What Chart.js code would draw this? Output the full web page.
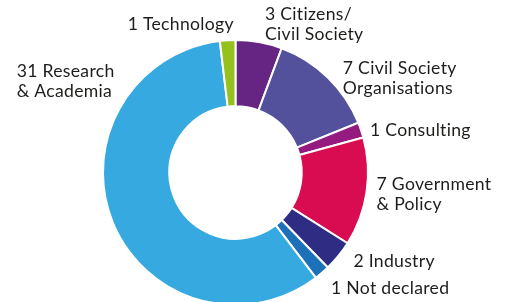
<!DOCTYPE html>
<html>
<head>
<meta charset="utf-8">
<script src="https://cdn.jsdelivr.net/npm/chart.js@4"></script>
<style>
html,body{margin:0;padding:0;background:#fff;overflow:hidden;}
#wrap{width:510px;height:302px;overflow:hidden;position:relative;}
canvas{display:block;}
</style>
</head>
<body>
<div id="wrap"><canvas id="c" width="510" height="345"></canvas></div>
<script>
// Data (clockwise from 12 o'clock)
const categories = ["Citizens/ Civil Society", "Civil Society Organisations", "Consulting", "Government & Policy", "Industry", "Not declared", "Research & Academia", "Technology"];
const counts = [3, 7, 1, 7, 2, 1, 31, 1];
const labelLines = [
  ["3 Citizens/", "Civil Society"],
  ["7 Civil Society", "Organisations"],
  ["1 Consulting"],
  ["7 Government", "& Policy"],
  ["2 Industry"],
  ["1 Not declared"],
  ["31 Research", "& Academia"],
  ["1 Technology"]
];
const colors = ["#662483", "#53519c", "#951b81", "#d90c52", "#2f2c83", "#1d71b8", "#36a9e1", "#95c11f"];

// label offsets relative to each slice's outer mid-point (x of text start, y of first baseline)
const labelOffsets = [
  [6, -22], [15, -3], [9, 6], [10, -2], [15, 11], [9, 21], [-96, -145], [-100, -10]
];

const labelPlugin = {
  id: 'sliceLabels',
  afterDatasetsDraw(chart) {
    const ctx = chart.ctx;
    const meta = chart.getDatasetMeta(0);
    ctx.save();
    ctx.font = '17.6px Lato, "Open Sans", sans-serif';
    try { ctx.letterSpacing = '0.3px'; } catch (e) {}
    ctx.fillStyle = '#1d1d1b';
    ctx.textAlign = 'left';
    ctx.textBaseline = 'alphabetic';
    meta.data.forEach((arc, i) => {
      const p = arc.getProps(['x', 'y', 'startAngle', 'endAngle', 'outerRadius'], true);
      const mid = (p.startAngle + p.endAngle) / 2;
      const ax = p.x + Math.cos(mid) * p.outerRadius;
      const ay = p.y + Math.sin(mid) * p.outerRadius;
      const [dx, dy] = labelOffsets[i];
      labelLines[i].forEach((line, k) => {
        ctx.fillText(line, ax + dx, ay + dy + k * 19.5);
      });
    });
    ctx.restore();
  }
};

function draw() {
  new Chart(document.getElementById('c'), {
    type: 'doughnut',
    data: {
      labels: categories,
      datasets: [{
        data: counts,
        backgroundColor: colors,
        borderColor: '#ffffff',
        borderWidth: 2
      }]
    },
    options: {
      responsive: false,
      devicePixelRatio: 1,
      animation: false,
      cutout: '50%',
      rotation: 0,
      layout: { padding: { left: 102, right: 141, top: 39, bottom: 39 } },
      plugins: { legend: { display: false }, tooltip: { enabled: false } }
    },
    plugins: [labelPlugin]
  });
}
if (document.fonts && document.fonts.load) {
  document.fonts.load('17px Lato').then(draw, draw);
} else { draw(); }
</script>
</body>
</html>
